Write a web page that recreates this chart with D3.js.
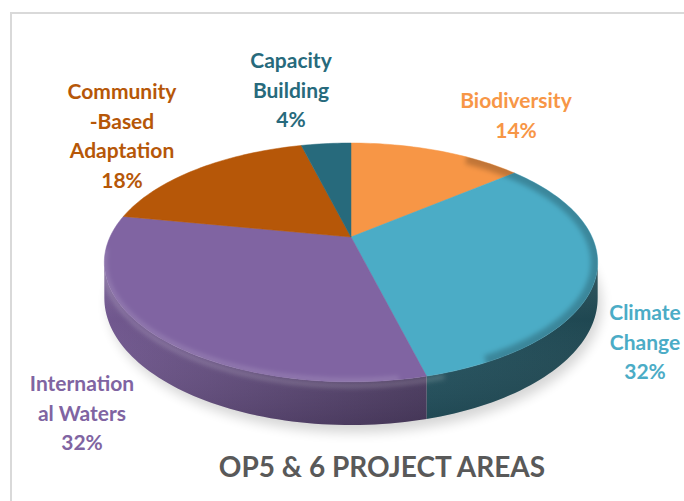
<!DOCTYPE html>
<html>
<head>
<meta charset="utf-8">
<script src="https://cdnjs.cloudflare.com/ajax/libs/d3/7.8.5/d3.min.js"></script>
<style>
  body { margin: 0; background: #fff; }
  svg { display: block; font-family: Lato, "Open Sans", sans-serif; font-weight: bold; }
</style>
</head>
<body>
<script>
// data, clockwise from 12 o'clock
const categories = ["Biodiversity", "Climate Change", "International Waters", "Community-Based Adaptation", "Capacity Building"];
const shares = [14, 32, 32, 18, 4];
const labelLines = [["Biodiversity"], ["Climate", "Change"], ["Internation", "al Waters"], ["Community", "-Based", "Adaptation"], ["Capacity", "Building"]];
const colors = ["#F79646", "#4BACC6", "#8064A2", "#B65708", "#276A7C"];
const title = "OP5 & 6 PROJECT AREAS";

// label placement (centre x, first line y)
const labelPos = [[516, 101], [645, 313], [82, 384], [122, 92], [291, 61]];

const w = 684, h = 501;
const cx = 351, cy = 237, rx = 241, ry = 114, persp = 0.213, depth = 34;
const lineH = 29.5;

const svg = d3.select("body").append("svg").attr("width", w).attr("height", h);
const defs = svg.append("defs");

// chart frame
svg.append("rect").attr("x", 11).attr("y", 13).attr("width", 700).attr("height", 520)
  .attr("fill", "none").attr("stroke", "#D9D9D9").attr("stroke-width", 2);

const slices = d3.pie().sort(null).value(d => d)(shares);

// perspective projection of a point on the pie rim
function proj(a, drop) {
  const X = Math.sin(a), Z = Math.cos(a), k = 1 / (1 + persp * Z);
  return [cx + rx * X * k, cy - ry * Z * k + (drop || 0) * k];
}
function rim(a0, a1, drop) {
  const n = Math.max(2, Math.ceil((a1 - a0) * 40));
  return d3.range(n + 1).map(i => proj(a0 + (a1 - a0) * i / n, drop));
}
const line = d3.line();

// soft shadow under the pie
defs.append("filter").attr("id", "blur").attr("x", "-20%").attr("y", "-20%").attr("width", "140%").attr("height", "140%")
  .append("feGaussianBlur").attr("stdDeviation", 6);
svg.append("path")
  .attr("d", line(rim(0, 2 * Math.PI, depth + 6)) + "Z")
  .attr("transform", "translate(4,0)")
  .attr("fill", "#000").attr("opacity", 0.16).attr("filter", "url(#blur)");

// side walls (front part only)
const sil = Math.acos(-persp);
const sideShade = [[1.0, 1.6], [2.1, 2.5], [0.35, 1.45], [0.6, 1.2], [1.5, 2]];
slices.forEach((s, i) => {
  const a0 = Math.max(s.startAngle, sil), a1 = Math.min(s.endAngle, 2 * Math.PI - sil);
  if (a1 <= a0) return;
  const gid = "side" + i;
  const base = d3.color(colors[i]);
  const g = defs.append("linearGradient").attr("id", gid)
    .attr("gradientUnits", "userSpaceOnUse")
    .attr("x1", proj(a1)[0]).attr("x2", proj(a0)[0]).attr("y1", 0).attr("y2", 0);
  g.append("stop").attr("offset", 0).attr("stop-color", base.darker(sideShade[i][0]));
  g.append("stop").attr("offset", 1).attr("stop-color", base.darker(sideShade[i][1]));
  const pts = rim(a0, a1, 0).concat(rim(a0, a1, depth).reverse());
  svg.append("path").attr("d", line(pts) + "Z").attr("fill", `url(#${gid})`);
});

// subtle vertical shading on the wall
const wallPts = rim(sil, 2 * Math.PI - sil, 0).concat(rim(sil, 2 * Math.PI - sil, depth).reverse());
const vg = defs.append("linearGradient").attr("id", "wallv").attr("x1", 0).attr("x2", 0).attr("y1", 0).attr("y2", 1);
vg.append("stop").attr("offset", 0).attr("stop-color", "#fff").attr("stop-opacity", 0.1);
vg.append("stop").attr("offset", 0.35).attr("stop-color", "#fff").attr("stop-opacity", 0);
vg.append("stop").attr("offset", 1).attr("stop-color", "#000").attr("stop-opacity", 0.12);
svg.append("path").attr("d", line(wallPts) + "Z").attr("fill", "url(#wallv)");

// top faces
slices.forEach((s, i) => {
  const pts = [[cx, cy]].concat(rim(s.startAngle, s.endAngle, 0));
  svg.append("path").attr("d", line(pts) + "Z")
    .attr("fill", colors[i]).attr("stroke", colors[i]).attr("stroke-width", 0.5);
});

// bevel: light rim along the front-left edge, dark rim at right, kept inside the pie
const outline = rim(0, 2 * Math.PI, 0);
defs.append("clipPath").attr("id", "topclip").append("path").attr("d", line(outline) + "Z");
defs.append("clipPath").attr("id", "wallclip").append("path").attr("d", line(wallPts) + "Z");
defs.append("filter").attr("id", "soft").attr("x", "-10%").attr("y", "-10%").attr("width", "120%").attr("height", "120%")
  .append("feGaussianBlur").attr("stdDeviation", 2.5);

svg.append("g").attr("clip-path", "url(#wallclip)")
  .append("path").attr("d", line(rim(Math.PI * 0.9, 2 * Math.PI - sil + 0.2, 3))).attr("fill", "none")
  .attr("stroke", "#fff").attr("stroke-opacity", 0.22).attr("stroke-width", 4).attr("filter", "url(#soft)");
svg.append("g").attr("clip-path", "url(#topclip)")
  .append("path").attr("d", line(rim(Math.PI * 0.95, 2 * Math.PI - sil + 0.1, -1))).attr("fill", "none")
  .attr("stroke", "#fff").attr("stroke-opacity", 0.18).attr("stroke-width", 4).attr("filter", "url(#soft)");
svg.append("g").attr("clip-path", "url(#topclip)")
  .append("path").attr("d", line(rim(0.6, Math.PI * 0.85, 0))).attr("fill", "none")
  .attr("stroke", "#000").attr("stroke-opacity", 0.22).attr("stroke-width", 14).attr("filter", "url(#soft)");

// data labels
slices.forEach((s, i) => {
  const t = svg.append("text")
    .attr("text-anchor", "middle")
    .attr("fill", d3.color(colors[i]).toString())
    .attr("font-size", 21);
  labelLines[i].concat([shares[i] + "%"]).forEach((ln, j) => {
    t.append("tspan").attr("x", labelPos[i][0]).attr("y", labelPos[i][1] + j * lineH).attr("dy", "0.35em").text(ln);
  });
});

// title
svg.append("text").attr("x", 382).attr("y", 477).attr("text-anchor", "middle")
  .attr("font-size", 28).attr("fill", "#595959").text(title);
</script>
</body>
</html>
